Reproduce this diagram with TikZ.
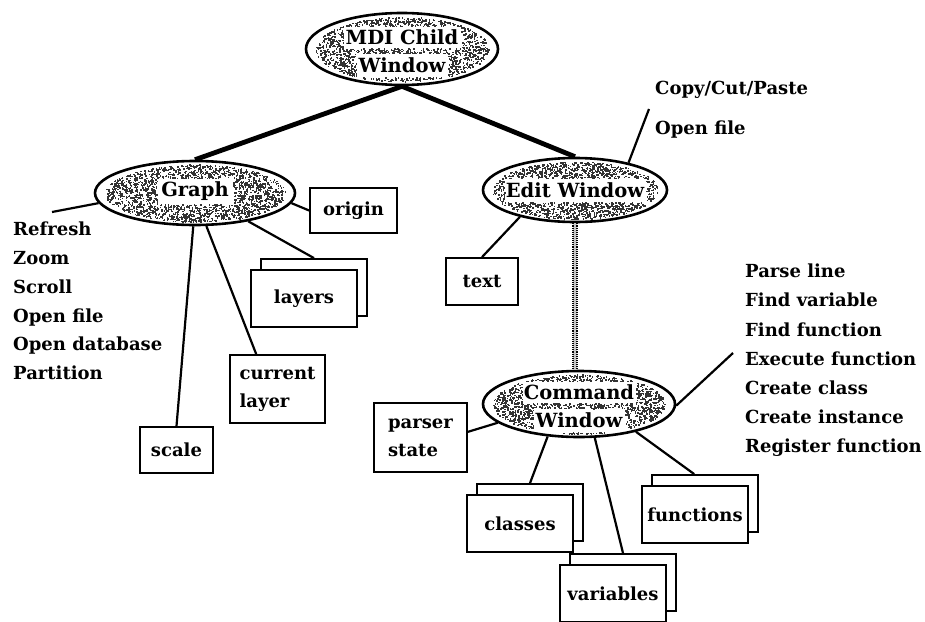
\documentclass[tikz,border=0pt]{standalone}
\usepackage{fontspec}
\setmainfont{DejaVu Serif}
\usetikzlibrary{shapes.geometric,calc}
\tikzset{
  lab/.style={font=\bfseries\fontsize{19.5}{28}\selectfont, inner sep=0pt},
  listtext/.style={font=\bfseries\fontsize{18}{28.8}\selectfont, inner sep=0pt, align=left, anchor=west},
  box/.style={draw, line width=1.8pt, fill=white, inner sep=0pt, align=left,
              font=\bfseries\fontsize{18}{28}\selectfont},
  oval/.style={ellipse, draw, line width=2.6pt, inner sep=0pt, align=center},
  link/.style={line width=2.2pt},
  trunk/.style={line width=4.8pt},
  speck/.style={fill=black!80},
}
% #1,#2 centre, #3,#4 radii, #5 count, #6 test that is 1 where the text keeps clear
\newcommand\speckle[6]{%
  \foreach \i in {1,...,#5}{%
    \pgfmathsetmacro\sa{360*rnd}%
    \pgfmathsetmacro\sr{0.9*sqrt(rnd)}%
    \pgfmathsetmacro\px{#1+\sr*#3*cos(\sa)}%
    \pgfmathsetmacro\py{#2+\sr*#4*sin(\sa)}%
    \pgfmathparse{#6}%
    \ifdim\pgfmathresult pt<0.5pt
      \fill[speck] (\px,\py) rectangle ++(1.5,1.5);
    \fi
  }}
\newcommand\stack[4]{%
  \node[box, minimum width=106pt, minimum height=57pt] (#1b) at ({#2+63},{#3+17.5}) {};
  \node[box, align=center, minimum width=106pt, minimum height=57pt] (#1) at ({#2+53},{#3+28.5}) {#4};}
\begin{document}
\begin{tikzpicture}[x=1pt,y=-1pt]
\useasboundingbox (0,0) rectangle (925,621);
\pgfmathsetseed{7}
% speckled fills of the ovals, kept clear round their texts
\speckle{402}{49}{96}{36}{2500}{(abs(\px-402)<59)*(abs(\py-37)<11)+(abs(\px-402)<46)*(abs(\py-65)<12)}
\speckle{195}{193}{100}{32}{2400}{(abs(\px-195)<38)*(abs(\py-191)<13)}
\speckle{575}{190}{92}{32}{2300}{(abs(\px-575)<71)*(abs(\py-190)<12)}
\speckle{579}{404}{96}{33}{2400}{(abs(\px-579)<57)*(abs(\py-392)<11)+(abs(\px-579)<46)*(abs(\py-420)<12)}
% ovals
\node[oval, minimum width=192pt, minimum height=72pt] (mdi) at (402,49) {};
\node[lab, align=center] (mdit) at (402,51) {MDI Child\\Window};
\node[oval, minimum width=200pt, minimum height=64pt] (graph) at (195,193) {};
\node[lab] (grapht) at (195,191) {Graph};
\node[oval, minimum width=184pt, minimum height=64pt] (edit) at (575,190) {};
\node[lab] (editt) at (575,190) {Edit Window};
\node[oval, minimum width=192pt, minimum height=66pt] (cmd) at (579,404) {};
\node[lab, align=center] (cmdt) at (579,406) {Command\\Window};
% boxes
\node[box, align=center, minimum width=87pt, minimum height=45pt] (origin) at (353.5,210.5) {origin};
\node[box, align=center, minimum width=72pt, minimum height=47pt] (txt) at (482,281.5) {text};
\node[box, minimum width=95pt, minimum height=68pt] (cur) at (277.5,389) {current\\layer};
\node[box, align=center, minimum width=73pt, minimum height=46pt] (scale) at (176.5,450) {scale};
\node[box, minimum width=93pt, minimum height=69pt] (parser) at (420.5,437.5) {parser\\state};
\stack{layers}{251}{270}{layers}
\stack{classes}{467}{495}{classes}
\stack{variables}{560}{565}{variables}
\stack{functions}{642}{486}{functions}
% operation lists
\node[listtext] (glist) at (13,301) {Refresh\\Zoom\\Scroll\\Open file\\Open database\\Partition};
\node[listtext, font=\bfseries\fontsize{18}{40}\selectfont] (elist) at (655,110) {Copy/Cut/Paste\\Open file};
\node[listtext, font=\bfseries\fontsize{18}{29.2}\selectfont] (clist) at (745,360.5) {Parse line\\Find variable\\Find function\\Execute function\\Create class\\Create instance\\Register function};
% connector free ends
\coordinate (gend) at (52,212);
\coordinate (eend) at (649,109);
\coordinate (cend) at (733,353);
% connectors
\draw[trunk] (mdi.south) -- (graph.north);
\draw[trunk] (mdi.south) -- (edit.north);
\draw[link] (graph.186) -- (gend);
\draw[link] (graph.-6) -- (origin.west);
\draw[link] (graph.-28) -- (layersb.north);
\draw[link] (graph.-71) -- ($(cur.north west)!0.28!(cur.north east)$);
\draw[link] (graph.-93) -- (scale.north);
\draw[link] (edit.27) -- (eend);
\draw[link] (edit.206) -- (txt.north);
\draw[line width=4pt, gray!45] (edit.south) -- (edit.south |- cmd.north);
\draw[line width=1.1pt, densely dotted] ([xshift=-2pt]edit.south) -- ([xshift=-2pt]edit.south |- cmd.north);
\draw[line width=1.1pt, densely dotted] ([xshift=2pt]edit.south) -- ([xshift=2pt]edit.south |- cmd.north);
\draw[link] (cmd.193) -- ($(parser.north east)!0.42!(parser.south east)$);
\draw[link] (cmd.226) -- (classesb.north);
\draw[link] (cmd.-65) -- (variablesb.north);
\draw[link] (cmd.-26) -- ($(functionsb.north west)!0.4!(functionsb.north east)$);
\draw[link] (cmd.-1) -- (cend);
\end{tikzpicture}
\end{document}
